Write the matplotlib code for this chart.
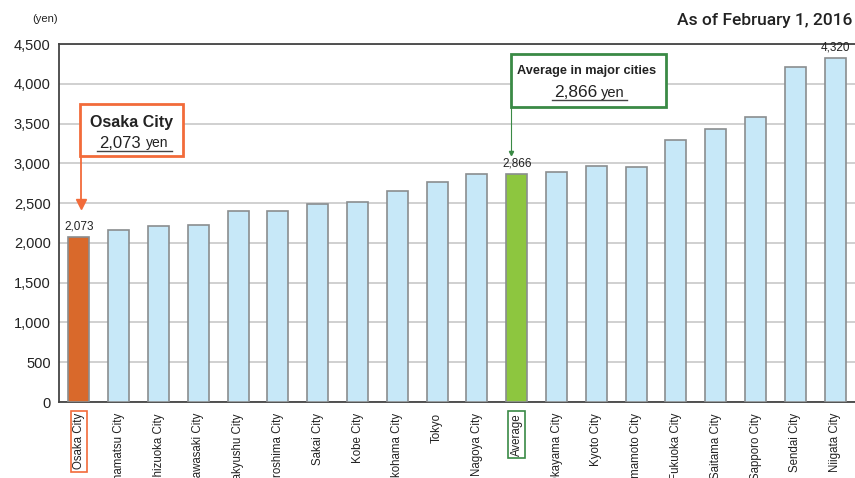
import matplotlib
matplotlib.use("Agg")
import matplotlib.pyplot as plt
from matplotlib.patches import Rectangle
from matplotlib.lines import Line2D

# data
cities = ["Osaka City", "Hamamatsu City", "Shizuoka City", "Kawasaki City", "Kitakyushu City",
          "Hiroshima City", "Sakai City", "Kobe City", "Yokohama City", "Tokyo",
          "Nagoya City", "Average", "Okayama City", "Kyoto City", "Kumamoto City",
          "Fukuoka City", "Saitama City", "Sapporo City", "Sendai City", "Niigata City"]
fees = [2073, 2160, 2210, 2223, 2399, 2407, 2487, 2516, 2650, 2763,
        2860, 2866, 2895, 2962, 2960, 3293, 3435, 3582, 4211, 4320]
value_labels = {0: "2,073", 11: "2,866", 19: "4,320"}
yticks = [0, 500, 1000, 1500, 2000, 2500, 3000, 3500, 4000, 4500]

REG = ["Liberation Sans", "DejaVu Sans"]
plt.rcParams["font.family"] = REG

W, H = 855, 478
fig = plt.figure(figsize=(W / 100, H / 100), dpi=100)

def fx(px):
    return px / W

def fy(py):
    return 1 - py / H

ax = fig.add_axes([fx(59), fy(402), fx(855) - fx(59), fy(44) - fy(402)])

colors = []
for c in cities:
    if c == "Osaka City":
        colors.append("#d9692b")
    elif c == "Average":
        colors.append("#8dc63f")
    else:
        colors.append("#c7e8f8")

x = list(range(len(cities)))
ax.bar(x, fees, width=0.53, color=colors, edgecolor="#8a8d8f", linewidth=1.2, zorder=3)

for i, s in value_labels.items():
    ax.text(i, fees[i] + 60, s, ha="center", va="bottom", fontsize=8.5, color="#222222")

ax.set_xlim(-0.5, 19.5)
ax.set_ylim(0, 4500)
ax.set_yticks(yticks)
ax.set_yticklabels(["{:,}".format(v) for v in yticks], fontsize=10.5, color="#222222")
ax.yaxis.grid(True, color="#c8c8c8", linewidth=1.2, zorder=0)
ax.set_axisbelow(True)
ax.tick_params(axis="y", length=0, pad=6)
ax.tick_params(axis="x", length=0, pad=8)
ax.set_xticks(x)
ax.set_xticklabels(cities, rotation=90, va="top", ha="center", fontsize=8.3, color="#222222")
for lbl in ax.get_xticklabels():
    if lbl.get_text() == "Osaka City":
        lbl.set_bbox(dict(boxstyle="square,pad=0.2", fc="white", ec="#f26b3a", lw=1.2))
    elif lbl.get_text() == "Average":
        lbl.set_bbox(dict(boxstyle="square,pad=0.2", fc="white", ec="#3a8a45", lw=1.2))

for side in ["left", "bottom", "top"]:
    ax.spines[side].set_color("#444444")
    ax.spines[side].set_linewidth(1.3)
ax.spines["right"].set_visible(False)

fig.text(fx(45), fy(19), "(yen)", ha="center", va="center", fontsize=8, color="#222222")
fig.text(fx(852), fy(20), "As of February 1, 2016", ha="right", va="center",
         fontsize=12.5, family=["Roboto", "Liberation Sans"], fontweight="medium",
         color="#222222")

# Osaka callout
fig.patches.append(Rectangle((fx(80), fy(156)), fx(183) - fx(80), fy(104) - fy(156),
                             transform=fig.transFigure, fc="white", ec="#f26b3a", lw=2, zorder=5))
fig.text(fx(131.5), fy(122), "Osaka City", ha="center", va="center", fontsize=11.5,
         fontweight="bold", color="#222222", zorder=6)
fig.text(fx(141), fy(147.5), "2,073", ha="right", va="baseline", fontsize=12,
         color="#222222", zorder=6)
fig.text(fx(146), fy(147.5), "yen", ha="left", va="baseline", fontsize=10,
         color="#222222", zorder=6)
fig.lines.append(Line2D([fx(97), fx(172)], [fy(150.5), fy(150.5)], transform=fig.transFigure,
                        color="#444444", lw=1, zorder=6))
fig.lines.append(Line2D([fx(81), fx(81)], [fy(156), fy(203)], transform=fig.transFigure,
                        color="#f26b3a", lw=1.3, zorder=6))
fig.lines.append(Line2D([fx(81)], [fy(204)], transform=fig.transFigure, marker="v",
                        markersize=7, color="#f26b3a", linestyle="none", zorder=6))

# Average callout
fig.patches.append(Rectangle((fx(511), fy(107)), fx(666) - fx(511), fy(54) - fy(107),
                             transform=fig.transFigure, fc="white", ec="#3a8a45", lw=2, zorder=5))
fig.text(fx(587), fy(71), "Average in major cities", ha="center", va="center",
         fontsize=9.2, fontweight="bold", color="#222222", zorder=6)
fig.text(fx(597), fy(96.5), "2,866", ha="right", va="baseline", fontsize=12.5,
         color="#222222", zorder=6)
fig.text(fx(601), fy(96.5), "yen", ha="left", va="baseline", fontsize=10.5,
         color="#222222", zorder=6)
fig.lines.append(Line2D([fx(552), fx(627)], [fy(99.5), fy(99.5)], transform=fig.transFigure,
                        color="#444444", lw=1, zorder=6))
fig.lines.append(Line2D([fx(511), fx(511)], [fy(107), fy(152)], transform=fig.transFigure,
                        color="#3a8a45", lw=0.8, zorder=6))
fig.lines.append(Line2D([fx(511)], [fy(153)], transform=fig.transFigure, marker="v",
                        markersize=3, color="#3a8a45", linestyle="none", zorder=6))

fig.savefig("out.png", dpi=100)
